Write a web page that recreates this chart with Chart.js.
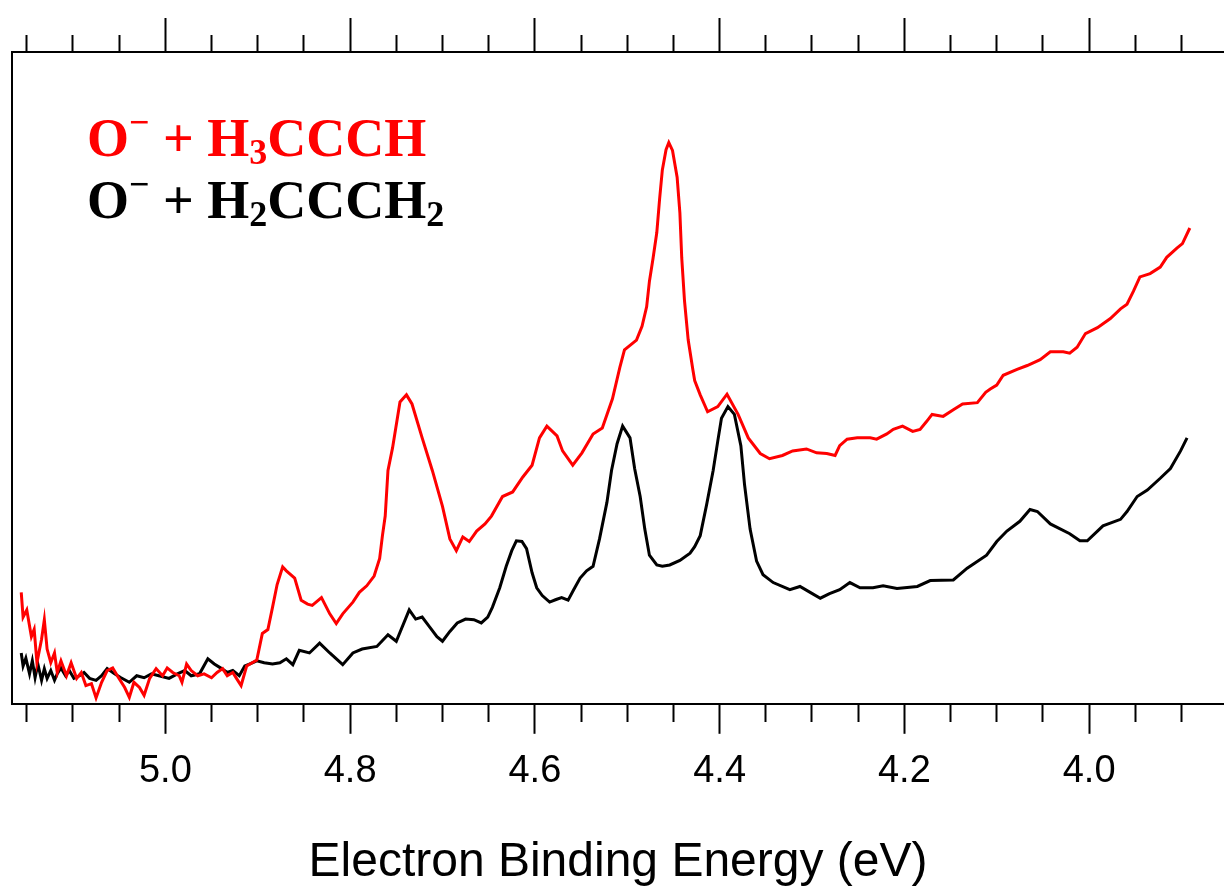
<!DOCTYPE html>
<html lang="en">
<head>
<meta charset="UTF-8">
<title>Photoelectron spectra</title>
<script src="https://cdn.jsdelivr.net/npm/chart.js"></script>
<style>
  html, body { margin: 0; padding: 0; background: #fff; }
  #wrap { width: 1224px; height: 894px; }
</style>
</head>
<body>
<div id="wrap"><canvas id="spec" width="1224" height="894"></canvas></div>
<script>
// O- + H3CCCH  (eBE in eV, intensity in arb. units)
const eRed = [5.156,5.154,5.150,5.145,5.142,5.139,5.134,5.131,5.128,5.124,5.120,5.117,5.113,5.107,5.102,5.096,5.091,5.086,5.080,5.075,
  5.069,5.063,5.057,5.052,5.044,5.039,5.034,5.028,5.023,5.017,5.010,5.003,4.998,4.992,4.985,4.982,4.977,4.972,4.965,4.958,
  4.950,4.944,4.938,4.933,4.927,4.923,4.918,4.912,4.901,4.895,4.889,4.884,4.879,4.873,4.869,4.860,4.853,4.846,4.841,4.831,
  4.822,4.815,4.808,4.797,4.790,4.782,4.774,4.768,4.765,4.762,4.759,4.754,4.746,4.739,4.733,4.722,4.711,4.700,4.692,4.685,
  4.678,4.671,4.663,4.654,4.647,4.635,4.624,4.613,4.603,4.595,4.587,4.576,4.570,4.559,4.549,4.537,4.527,4.516,4.508,4.503,
  4.497,4.490,4.484,4.479,4.476,4.472,4.468,4.465,4.462,4.458,4.455,4.451,4.446,4.443,4.441,4.438,4.434,4.429,4.427,4.421,
  4.413,4.402,4.392,4.380,4.369,4.356,4.346,4.332,4.321,4.306,4.295,4.284,4.275,4.270,4.262,4.251,4.237,4.230,4.219,4.212,
  4.202,4.191,4.183,4.176,4.170,4.158,4.147,4.137,4.121,4.112,4.107,4.100,4.093,4.078,4.067,4.053,4.042,4.028,4.021,4.013,
  4.004,3.991,3.977,3.966,3.959,3.952,3.945,3.934,3.923,3.916,3.905,3.899,3.891];
const iRed = [17.1,13.3,14.4,10.3,11.4,6.3,9.9,12.9,8.4,6.3,7.8,4.8,6.6,4.3,6.3,3.9,4.8,2.8,3.1,0.9,
  3.3,5.1,5.5,4.3,2.5,1.0,3.3,2.5,1.3,3.9,5.4,4.3,5.5,4.8,4.3,3.3,6.1,5.1,4.3,4.6,
  4.0,4.8,5.4,4.3,4.8,3.9,2.8,5.8,6.7,10.8,11.4,14.8,18.3,21.0,20.4,19.3,15.9,15.3,15.1,16.3,
  13.8,12.3,13.8,15.6,17.1,18.1,19.6,22.3,25.8,28.8,35.8,39.3,46.3,47.4,46.0,40.8,35.8,30.3,25.3,23.5,
  25.6,24.9,26.5,27.6,28.8,31.8,32.5,34.8,36.6,40.8,42.6,41.1,38.8,36.6,38.5,41.4,42.3,46.8,51.6,54.3,
  55.0,55.8,57.9,60.9,64.8,68.4,72.3,77.4,81.9,85.0,86.1,84.9,80.8,75.3,68.4,61.8,55.8,51.3,49.6,47.4,
  44.8,45.6,47.5,44.4,40.8,38.4,37.6,38.1,38.8,39.1,38.5,38.4,38.1,39.6,40.6,40.8,40.8,40.6,41.4,42.1,
  42.6,41.8,42.1,43.3,44.4,44.1,45.1,46.0,46.2,47.8,48.3,48.9,50.4,51.3,51.9,52.8,54.0,54.0,53.8,54.7,
  56.8,57.7,59.1,60.6,61.3,63.3,65.5,66.0,67.0,68.5,69.9,70.6,73.0];

// O- + H2CCCH2
const eBlack = [5.156,5.154,5.151,5.147,5.144,5.141,5.138,5.134,5.131,5.128,5.124,5.120,5.117,5.113,5.108,5.104,5.099,5.093,5.088,5.082,
  5.075,5.069,5.063,5.055,5.048,5.039,5.031,5.023,5.015,5.007,4.996,4.987,4.979,4.972,4.963,4.954,4.947,4.939,4.933,4.927,
  4.920,4.914,4.909,4.901,4.893,4.884,4.876,4.869,4.862,4.855,4.844,4.833,4.822,4.808,4.797,4.787,4.771,4.759,4.750,4.736,
  4.729,4.722,4.714,4.706,4.700,4.692,4.684,4.675,4.666,4.658,4.651,4.646,4.638,4.631,4.625,4.620,4.614,4.609,4.603,4.598,
  4.592,4.584,4.577,4.571,4.564,4.558,4.551,4.544,4.537,4.530,4.522,4.517,4.511,4.505,4.497,4.492,4.486,4.481,4.476,4.468,
  4.462,4.454,4.443,4.432,4.427,4.421,4.414,4.407,4.402,4.398,4.391,4.384,4.377,4.373,4.367,4.360,4.353,4.342,4.324,4.313,
  4.302,4.291,4.281,4.270,4.259,4.248,4.234,4.223,4.208,4.186,4.172,4.147,4.132,4.111,4.100,4.089,4.075,4.064,4.056,4.042,
  4.021,4.010,4.002,3.985,3.966,3.959,3.948,3.937,3.923,3.912,3.901,3.894];
const iBlack = [7.8,5.8,7.0,4.6,6.6,4.0,6.1,3.6,5.4,3.9,5.1,3.6,4.6,5.5,4.3,5.1,3.9,4.3,4.8,3.9,
  3.6,4.3,5.4,4.6,4.0,3.3,4.3,4.0,4.6,4.3,3.9,4.6,5.1,4.3,4.6,6.9,6.1,5.4,4.8,5.1,
  4.3,5.8,6.1,6.6,6.3,6.1,6.3,6.9,6.0,8.2,7.8,9.3,7.8,6.0,7.8,8.4,8.8,10.6,9.6,14.4,
  13.0,13.3,11.8,10.3,9.6,11.1,12.4,13.0,12.9,12.4,13.3,14.8,17.8,21.1,23.5,25.0,24.9,23.8,20.1,17.8,
  16.6,15.6,16.0,16.3,15.9,17.5,19.3,20.4,21.1,25.3,30.9,35.8,39.9,42.6,40.8,36.1,31.8,26.8,22.8,21.3,
  21.1,21.3,22.0,23.1,24.1,25.8,30.6,35.8,40.3,43.8,45.6,44.4,39.6,33.6,26.8,21.9,19.8,18.6,17.5,18.0,
  17.1,16.2,16.9,17.5,18.6,17.8,17.8,18.1,17.7,18.0,18.9,19.0,20.8,22.8,24.9,26.5,28.0,29.8,29.5,27.6,
  26.1,25.0,25.0,27.3,28.3,29.5,31.8,32.8,34.6,36.1,38.8,40.8];

const tickLabels = ['5.0', '4.8', '4.6', '4.4', '4.2', '4.0'];
const xMin = 3.854, xMax = 5.166;

const isMajor = v => Math.abs(v * 5 - Math.round(v * 5)) < 1e-6;

// minor ticks are the long tick cut down to 17px with a dash
const bottomDash = ctx => (ctx.tick && !isMajor(ctx.tick.value)) ? [17, 100] : [];
const topDash = ctx => (ctx.tick && !isMajor(ctx.tick.value)) ? [17, 17] : [];

const pts = (xs, ys) => xs.map((x, i) => ({ x: x, y: ys[i] }));

// species labels with sub/superscripts
const speciesLabels = {
  id: 'speciesLabels',
  afterDraw(chart) {
    const ctx = chart.ctx;
    const big = 'bold 54px "Liberation Serif", "Times New Roman", serif';
    const small = 'bold 36px "Liberation Serif", "Times New Roman", serif';
    const rows = [
      { color: '#ff0000', y: 156, parts: [['O'], ['\u2212', 'sup'], [' + '], ['H'], ['3', 'sub'], ['CCCH']] },
      { color: '#000000', y: 218, parts: [['O'], ['\u2212', 'sup'], [' + '], ['H'], ['2', 'sub'], ['CCCH'], ['2', 'sub']] }
    ];
    ctx.save();
    ctx.textBaseline = 'alphabetic';
    ctx.textAlign = 'left';
    rows.forEach(row => {
      let x = 87;
      ctx.fillStyle = row.color;
      row.parts.forEach(([t, kind]) => {
        ctx.font = kind ? small : big;
        const dy = kind === 'sup' ? -22 : kind === 'sub' ? 8 : 0;
        ctx.fillText(t, x, row.y + dy);
        x += ctx.measureText(t).width;
      });
    });
    ctx.restore();
  }
};

new Chart(document.getElementById('spec'), {
  type: 'line',
  data: {
    datasets: [
      { label: 'O\u2212 + H3CCCH', data: pts(eRed, iRed), borderColor: '#ff0000', borderWidth: 3, pointRadius: 0, tension: 0, xAxisID: 'x' },
      { label: 'O\u2212 + H2CCCH2', data: pts(eBlack, iBlack), borderColor: '#000000', borderWidth: 3, pointRadius: 0, tension: 0, xAxisID: 'x' }
    ]
  },
  options: {
    responsive: false,
    animation: false,
    layout: { padding: { left: 12, top: 18, right: 0, bottom: 0 } },
    plugins: { legend: { display: false }, tooltip: { enabled: false } },
    scales: {
      x: {
        type: 'linear', position: 'bottom', reverse: true, min: xMin, max: xMax,
        grid: { drawOnChartArea: false, drawTicks: true, tickLength: 30, tickWidth: 2, tickColor: '#000', tickBorderDash: bottomDash },
        border: { display: true, color: '#000', width: 2 },
        ticks: {
          stepSize: 0.05, includeBounds: false, autoSkip: false, maxRotation: 0, padding: 15,
          color: '#000', font: { family: 'Arial, "Liberation Sans", sans-serif', size: 38 },
          callback: v => { const s = (+v).toFixed(1); return isMajor(v) && tickLabels.includes(s) ? s : ''; }
        },
        title: {
          display: true, text: 'Electron Binding Energy (eV)', color: '#000',
          font: { family: 'Arial, "Liberation Sans", sans-serif', size: 48 },
          padding: { top: 25, bottom: 2 }
        }
      },
      x2: {
        type: 'linear', position: 'top', reverse: true, min: xMin, max: xMax,
        grid: { drawOnChartArea: false, drawTicks: true, tickLength: 34, tickWidth: 2, tickColor: '#000', tickBorderDash: topDash, tickBorderDashOffset: 17 },
        border: { display: true, color: '#000', width: 2 },
        ticks: { display: false, stepSize: 0.05, includeBounds: false, autoSkip: false }
      },
      y: {
        min: 0, max: 100, position: 'left',
        grid: { display: false, drawTicks: false },
        border: { display: true, color: '#000', width: 2 },
        ticks: { display: false }
      }
    }
  },
  plugins: [speciesLabels]
});
</script>
</body>
</html>
